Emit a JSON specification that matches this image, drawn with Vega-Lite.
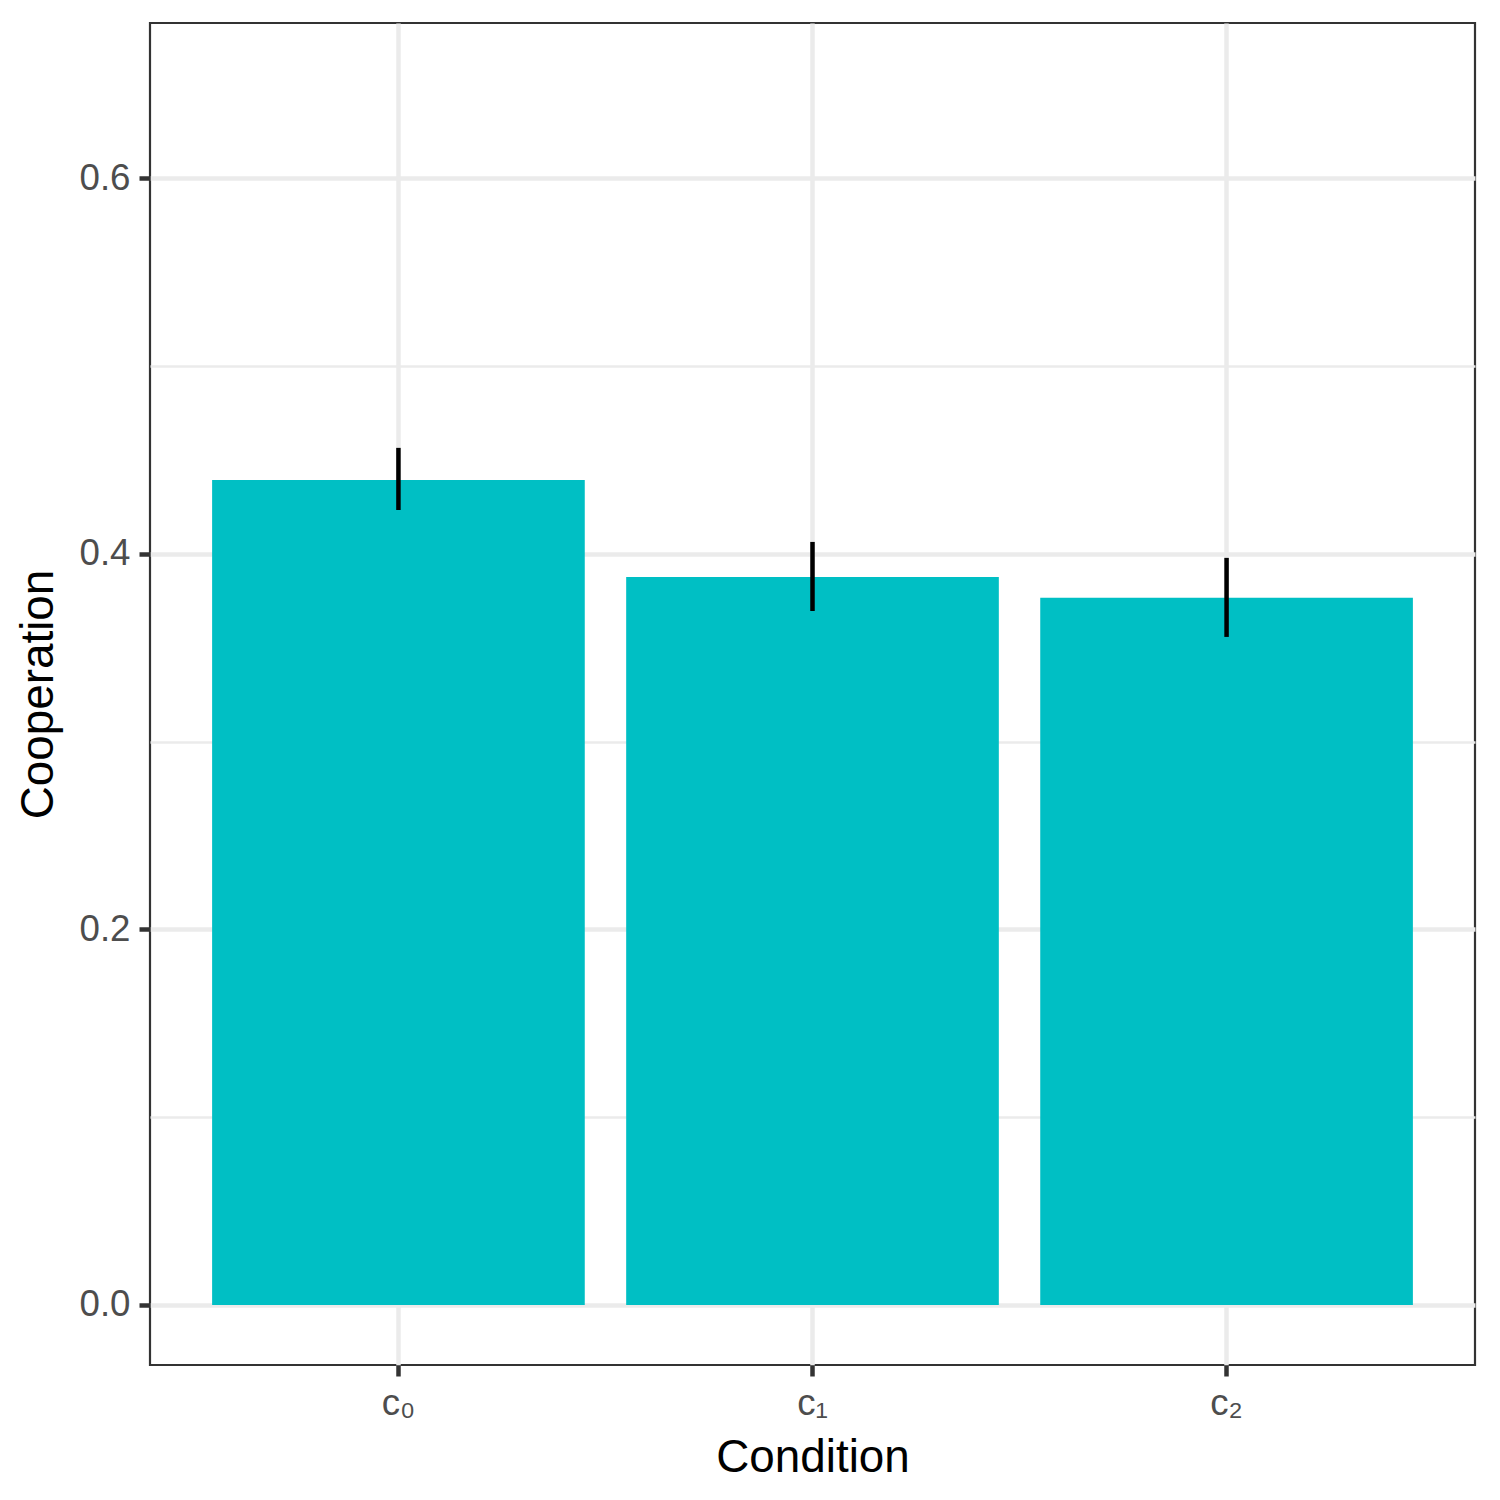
{
  "$schema": "https://vega.github.io/schema/vega-lite/v6.json",
  "autosize": "none",
  "width": 1325,
  "height": 1342,
  "padding": {"left": 150, "top": 23, "right": 25, "bottom": 135},
  "background": "white",
  "config": {
    "view": {"stroke": "#333333", "strokeWidth": 2.2},
    "font": "Liberation Sans",
    "axis": {
      "domain": false,
      "gridColor": "#EBEBEB",
      "tickColor": "#333333",
      "tickWidth": 4.5,
      "tickSize": 11,
      "labelColor": "#4D4D4D",
      "labelFontSize": 36.7,
      "labelPadding": 9,
      "titleFontSize": 45.8,
      "titleFontWeight": "normal",
      "titleColor": "black"
    }
  },
  "data": {
    "values": [
      {"condition": "c₀", "coop": 0.4394, "lo": 0.4234, "hi": 0.4565},
      {"condition": "c₁", "coop": 0.3877, "lo": 0.3696, "hi": 0.4064},
      {"condition": "c₂", "coop": 0.3766, "lo": 0.3558, "hi": 0.3979}
    ]
  },
  "encoding": {
    "x": {
      "field": "condition",
      "type": "nominal",
      "sort": null,
      "title": "Condition",
      "scale": {"paddingInner": 0.1, "paddingOuter": 0.15},
      "axis": {
        "labelAngle": 0,
        "grid": true,
        "gridWidth": 4.5,
        "bandPosition": 0.5,
        "titlePadding": 14
      }
    }
  },
  "layer": [
    {
      "mark": {"type": "bar", "color": "#00BFC4"},
      "encoding": {
        "y": {
          "field": "coop",
          "type": "quantitative",
          "title": "Cooperation",
          "scale": {"domain": [-0.032, 0.6828], "nice": false, "zero": false},
          "axis": {
            "values": [0, 0.1, 0.2, 0.3, 0.4, 0.5, 0.6],
            "format": ".1f",
            "labelExpr": "round(datum.value * 10) % 2 == 1 ? '' : datum.label",
            "gridWidth": {"condition": {"test": "round(datum.value * 10) % 2 == 1", "value": 2.3}, "value": 4.5},
            "tickOpacity": {"condition": {"test": "round(datum.value * 10) % 2 == 1", "value": 0}, "value": 1},
            "titlePadding": 16
          }
        }
      }
    },
    {
      "mark": {"type": "rule", "color": "black", "strokeWidth": 4.5},
      "encoding": {
        "y": {"field": "lo", "type": "quantitative"},
        "y2": {"field": "hi"}
      }
    }
  ]
}
